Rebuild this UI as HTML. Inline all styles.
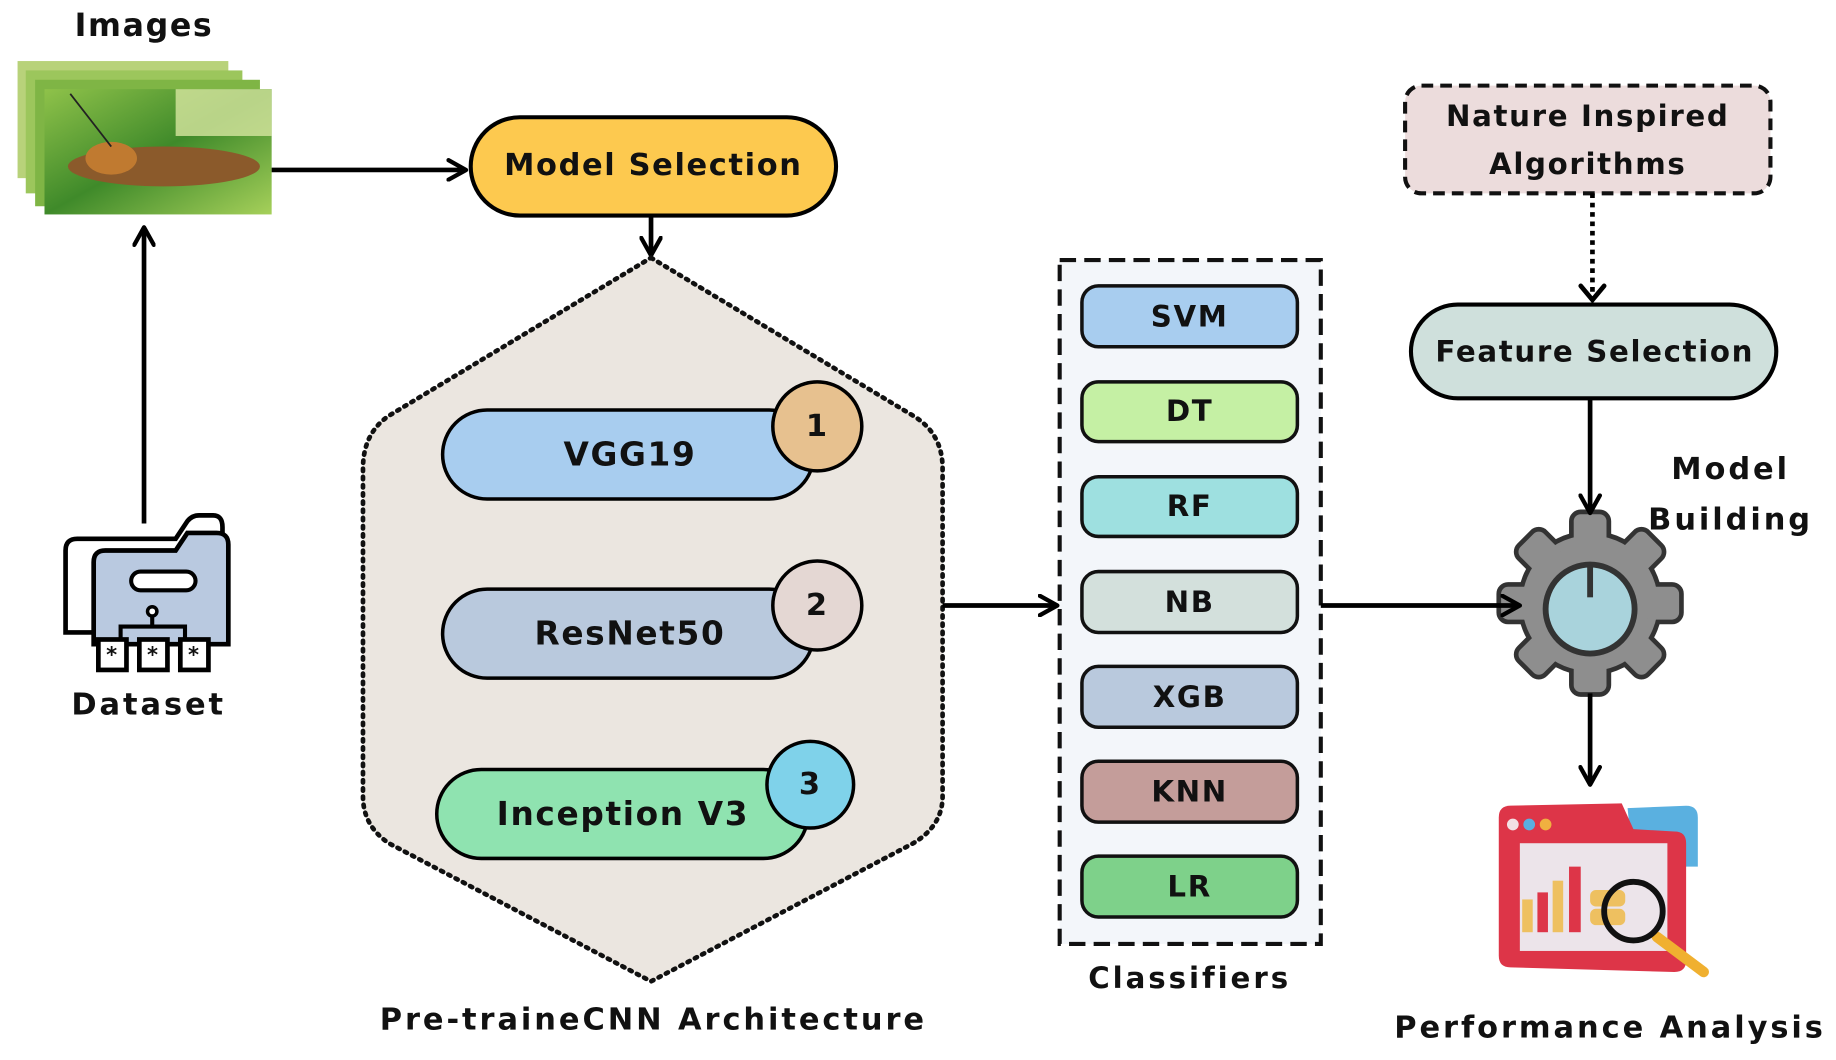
<!DOCTYPE html>
<html><head><meta charset="utf-8"><style>
html,body{margin:0;padding:0;background:#fff;}
svg{display:block;}
text{font-family:"DejaVu Sans","Liberation Sans",sans-serif;font-weight:bold;fill:#111;text-anchor:middle;dominant-baseline:central;letter-spacing:1.4px;}
</style></head><body>
<svg width="1836" height="1060" viewBox="0 0 1568 905" xmlns="http://www.w3.org/2000/svg">
<defs>
<marker id="ah" viewBox="0 0 12 12" refX="10" refY="6" markerWidth="5" markerHeight="5" orient="auto" markerUnits="strokeWidth">
<path d="M1,1 L10,6 L1,11" fill="none" stroke="#000" stroke-width="2.2" stroke-linecap="round" stroke-linejoin="round"/>
</marker>
<linearGradient id="leaf" x1="0" y1="0" x2="1" y2="1">
<stop offset="0" stop-color="#8fc24a"/><stop offset="0.5" stop-color="#3f8a2a"/><stop offset="1" stop-color="#a6d05a"/>
</linearGradient>
</defs>

<!-- Images -->
<text x="123" y="22" font-size="27">Images</text>
<rect x="15" y="52" width="180" height="100" fill="#b8d27a"/>
<rect x="22" y="60" width="185" height="105" fill="#9cc65c"/>
<rect x="30" y="68" width="192" height="108" fill="#7fb545"/>
<rect x="38" y="76" width="194" height="107" fill="url(#leaf)"/>
<rect x="150" y="76" width="82" height="40" fill="#d7e6a0" opacity="0.8"/>
<ellipse cx="140" cy="142" rx="82" ry="17" fill="#8b5a2b"/>
<ellipse cx="95" cy="135" rx="22" ry="14" fill="#c07a30"/>
<line x1="95" y1="125" x2="60" y2="80" stroke="#222" stroke-width="1.5"/>

<line x1="232" y1="145" x2="398" y2="145" stroke="#000" stroke-width="4" marker-end="url(#ah)"/>

<!-- Model selection -->
<rect x="402" y="100" width="312" height="84" rx="42" fill="#fdc94f" stroke="#000" stroke-width="3.5"/>
<text x="558" y="141" font-size="26">Model Selection</text>
<line x1="556" y1="184" x2="556" y2="218" stroke="#000" stroke-width="4" marker-end="url(#ah)"/>

<!-- Hexagon -->
<path d="M556,220 L780,355 Q805,370 805,400 L805,680 Q805,705 780,720 L556,838 L332,720 Q310,705 310,680 L310,400 Q310,370 332,355 Z" fill="#ebe6e0" stroke="#111" stroke-width="4" stroke-dasharray="2 5" stroke-linecap="round"/>

<rect x="378" y="350" width="317" height="76" rx="38" fill="#a8cdef" stroke="#000" stroke-width="3"/>
<text x="538" y="388" font-size="28">VGG19</text>
<circle cx="698" cy="364" r="38" fill="#e7c18f" stroke="#000" stroke-width="3"/>
<text x="698" y="364" font-size="26">1</text>

<rect x="378" y="503" width="317" height="76" rx="38" fill="#b9c9dd" stroke="#000" stroke-width="3"/>
<text x="538" y="541" font-size="28">ResNet50</text>
<circle cx="698" cy="517" r="38" fill="#e4d7d3" stroke="#000" stroke-width="3"/>
<text x="698" y="517" font-size="26">2</text>

<rect x="373" y="657" width="317" height="76" rx="38" fill="#8fe3b0" stroke="#000" stroke-width="3"/>
<text x="532" y="695" font-size="28">Inception V3</text>
<circle cx="692" cy="670" r="37" fill="#7fd2ea" stroke="#000" stroke-width="3"/>
<text x="692" y="670" font-size="26">3</text>

<text x="558" y="871" font-size="26" style="letter-spacing:2.5px">Pre-traineCNN Architecture</text>

<line x1="805" y1="517" x2="903" y2="517" stroke="#000" stroke-width="4" marker-end="url(#ah)"/>

<!-- Classifiers -->
<rect x="905" y="222" width="223" height="584" fill="#f3f6fa" stroke="#111" stroke-width="3.5" stroke-dasharray="14 7"/>
<g stroke="#111" stroke-width="3">
<rect x="924" y="244" width="184" height="52" rx="14" fill="#a8cdef"/>
<rect x="924" y="326" width="184" height="51" rx="14" fill="#c5f0a4"/>
<rect x="924" y="407" width="184" height="51" rx="14" fill="#9ee0e0"/>
<rect x="924" y="488" width="184" height="52" rx="14" fill="#d3e0dc"/>
<rect x="924" y="569" width="184" height="52" rx="14" fill="#b9c9dd"/>
<rect x="924" y="650" width="184" height="52" rx="14" fill="#c49d9a"/>
<rect x="924" y="731" width="184" height="52" rx="14" fill="#7ed18a"/>
</g>
<text x="1016" y="270" font-size="25">SVM</text>
<text x="1016" y="351" font-size="25">DT</text>
<text x="1016" y="432" font-size="25">RF</text>
<text x="1016" y="514" font-size="25">NB</text>
<text x="1016" y="595" font-size="25">XGB</text>
<text x="1016" y="676" font-size="25">KNN</text>
<text x="1016" y="757" font-size="25">LR</text>
<text x="1016" y="835" font-size="25" style="letter-spacing:2.5px">Classifiers</text>

<!-- Nature inspired -->
<rect x="1200" y="73" width="312" height="92" rx="14" fill="#ecdcdc" stroke="#111" stroke-width="3.5" stroke-dasharray="10 6"/>
<text x="1356" y="99" font-size="25">Nature Inspired</text>
<text x="1356" y="140" font-size="25">Algorithms</text>
<line x1="1360" y1="165" x2="1360" y2="256" stroke="#000" stroke-width="4" stroke-dasharray="4 4"/>
<path d="M1350,244 L1360,256 L1370,244" fill="none" stroke="#000" stroke-width="4" stroke-linecap="round"/>

<rect x="1205" y="260" width="312" height="80" rx="40" fill="#cfe0dc" stroke="#000" stroke-width="3.5"/>
<text x="1362" y="300" font-size="25">Feature Selection</text>

<text x="1478" y="401" font-size="26" style="letter-spacing:2.5px">Model</text>
<text x="1478" y="444" font-size="26" style="letter-spacing:2.5px">Building</text>

<!-- Gear -->
<g transform="translate(1358,515)">
<g fill="#333" stroke="#333" stroke-width="8" stroke-linejoin="round">
<circle r="58"/>
<rect x="-14" y="-76" width="28" height="30" rx="6"/>
<rect x="-14" y="-76" width="28" height="30" rx="6" transform="rotate(45)"/>
<rect x="-14" y="-76" width="28" height="30" rx="6" transform="rotate(90)"/>
<rect x="-14" y="-76" width="28" height="30" rx="6" transform="rotate(135)"/>
<rect x="-14" y="-76" width="28" height="30" rx="6" transform="rotate(180)"/>
<rect x="-14" y="-76" width="28" height="30" rx="6" transform="rotate(225)"/>
<rect x="-14" y="-76" width="28" height="30" rx="6" transform="rotate(270)"/>
<rect x="-14" y="-76" width="28" height="30" rx="6" transform="rotate(315)"/>
</g>
<g fill="#8e8e8e">
<circle r="58"/>
<rect x="-14" y="-76" width="28" height="30" rx="6"/>
<rect x="-14" y="-76" width="28" height="30" rx="6" transform="rotate(45)"/>
<rect x="-14" y="-76" width="28" height="30" rx="6" transform="rotate(90)"/>
<rect x="-14" y="-76" width="28" height="30" rx="6" transform="rotate(135)"/>
<rect x="-14" y="-76" width="28" height="30" rx="6" transform="rotate(180)"/>
<rect x="-14" y="-76" width="28" height="30" rx="6" transform="rotate(225)"/>
<rect x="-14" y="-76" width="28" height="30" rx="6" transform="rotate(270)"/>
<rect x="-14" y="-76" width="28" height="30" rx="6" transform="rotate(315)"/>
</g>
<circle cy="5" r="38" fill="#a9d3dc" stroke="#333" stroke-width="5"/>
<line x1="0" y1="-32" x2="0" y2="-5" stroke="#333" stroke-width="5"/>
</g>
<line x1="1128" y1="517" x2="1298" y2="517" stroke="#000" stroke-width="4" marker-end="url(#ah)"/>
<line x1="1358" y1="340" x2="1358" y2="438" stroke="#000" stroke-width="4" marker-end="url(#ah)"/>
<line x1="1358" y1="592" x2="1358" y2="670" stroke="#000" stroke-width="4" marker-end="url(#ah)"/>

<!-- Performance icon -->
<path d="M1390,690 L1440,688 Q1450,688 1450,698 L1450,740 L1395,740 Z" fill="#5ab0e0"/>
<path d="M1285,688 L1385,686 L1395,708 L1430,710 Q1440,710 1440,720 L1440,820 Q1440,830 1430,830 L1290,826 Q1280,826 1280,816 L1280,698 Q1280,688 1290,688 Z" fill="#dd3548"/>
<rect x="1298" y="720" width="126" height="92" fill="#ece4ea"/>
<circle cx="1292" cy="704" r="5" fill="#f2e0e4"/><circle cx="1306" cy="704" r="5" fill="#5aaee0"/><circle cx="1320" cy="704" r="5" fill="#f0b040"/>
<rect x="1300" y="768" width="9" height="28" fill="#eec060"/><rect x="1313" y="762" width="9" height="34" fill="#dd3548"/>
<rect x="1326" y="752" width="9" height="44" fill="#eec060"/><rect x="1340" y="740" width="10" height="56" fill="#dd3548"/>
<rect x="1358" y="776" width="30" height="14" rx="5" fill="#eec060"/><rect x="1358" y="760" width="30" height="14" rx="5" fill="#eec060"/>
<line x1="1415" y1="800" x2="1455" y2="830" stroke="#f0b030" stroke-width="9" stroke-linecap="round"/>
<circle cx="1395" cy="778" r="25" fill="none" stroke="#111" stroke-width="5"/>
<text x="1375" y="878" font-size="26" style="letter-spacing:2.5px">Performance Analysis</text>

<!-- Dataset -->
<line x1="123" y1="447" x2="123" y2="194" stroke="#000" stroke-width="4" marker-end="url(#ah)"/>
<path d="M56,470 Q56,460 66,460 L150,460 L160,445 Q164,440 170,440 L182,440 Q190,440 190,450 L190,540 L56,540 Z" fill="#fff" stroke="#000" stroke-width="4"/>
<path d="M80,480 Q80,470 90,470 L150,470 L160,455 L185,455 Q195,455 195,465 L195,550 L80,550 Z" fill="#b9c9e0" stroke="#000" stroke-width="4"/>
<rect x="112" y="488" width="55" height="16" rx="8" fill="#fff" stroke="#000" stroke-width="3.5"/>
<circle cx="130" cy="522" r="4" fill="#fff" stroke="#000" stroke-width="3"/>
<path d="M130,526 L130,535 M103,545 L103,535 L158,535 L158,545" fill="none" stroke="#000" stroke-width="3.5"/>
<g fill="#fff" stroke="#000" stroke-width="4">
<rect x="84" y="546" width="24" height="26"/><rect x="119" y="546" width="24" height="26"/><rect x="154" y="546" width="24" height="26"/>
</g>
<text x="96" y="559" font-size="18">*</text><text x="131" y="559" font-size="18">*</text><text x="166" y="559" font-size="18">*</text>
<text x="127" y="602" font-size="26" style="letter-spacing:2.5px">Dataset</text>
</svg>
</body></html>
